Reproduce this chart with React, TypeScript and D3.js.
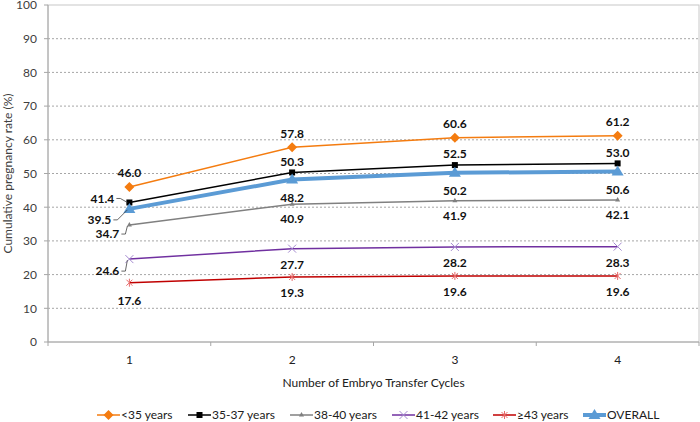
import React from "react";
import * as d3 from "d3";

const categories = ["1", "2", "3", "4"];
const yTicks = [0, 10, 20, 30, 40, 50, 60, 70, 80, 90, 100];
const seriesNames = ["<35 years", "35-37 years", "38-40 years", "41-42 years", "≥43 years", "OVERALL"];
const under35 = [46.0, 57.8, 60.6, 61.2];
const age35to37 = [41.4, 50.3, 52.5, 53.0];
const age38to40 = [34.7, 40.9, 41.9, 42.1];
const age41to42 = [24.6, 27.7, 28.2, 28.3];
const age43plus = [17.6, 19.3, 19.6, 19.6];
const overall = [39.5, 48.2, 50.2, 50.6];

const W = 700, H = 422;
const left = 48, right = 699, top = 5, bottom = 342;
const FONT = "Lato, 'Liberation Sans', Arial, sans-serif";

type Style = { color: string; mcolor: string; width: number; marker: string; labelDy: number; first: { dx: number; dy: number; leader: boolean } };
const styles: Style[] = [
  { color: "#F47C10", mcolor: "#F47C10", width: 1.5, marker: "diamond", labelDy: -14, first: { dx: 0, dy: -14, leader: false } },
  { color: "#000000", mcolor: "#000000", width: 1.5, marker: "square", labelDy: -11, first: { dx: -27, dy: -4, leader: true } },
  { color: "#808080", mcolor: "#808080", width: 1.5, marker: "triangleSmall", labelDy: 15, first: { dx: -22, dy: 9, leader: true } },
  { color: "#7030A0", mcolor: "#A58BD0", width: 1.5, marker: "x", labelDy: 16, first: { dx: -22, dy: 12, leader: true } },
  { color: "#C00000", mcolor: "#E86A6A", width: 1.5, marker: "star", labelDy: 16, first: { dx: 0, dy: 18, leader: false } },
  { color: "#5B9BD5", mcolor: "#5B9BD5", width: 4, marker: "triangle", labelDy: 18, first: { dx: -30, dy: 11, leader: true } },
];
const allSeries = [under35, age35to37, age38to40, age41to42, age43plus, overall];
const legendX = [97, 188, 290, 392, 493, 583];

function Marker({ type, x, y, c }: { type: string; x: number; y: number; c: string }) {
  switch (type) {
    case "diamond":
      return <path d={`M${x},${y - 5}L${x + 5},${y}L${x},${y + 5}L${x - 5},${y}Z`} fill={c} />;
    case "square":
      return <rect x={x - 3} y={y - 3} width={6} height={6} fill={c} />;
    case "triangleSmall":
      return <path d={`M${x},${y - 3}L${x + 2.5},${y + 1.5}L${x - 2.5},${y + 1.5}Z`} fill={c} />;
    case "triangle":
      return <path d={`M${x},${y - 6}L${x + 6},${y + 4}L${x - 6},${y + 4}Z`} fill={c} />;
    case "x":
      return <path d={`M${x - 4},${y - 4}L${x + 4},${y + 4}M${x + 4},${y - 4}L${x - 4},${y + 4}`} stroke={c} strokeWidth={1} />;
    case "star":
      return <path d={`M${x - 3},${y - 3}L${x + 3},${y + 3}M${x + 3},${y - 3}L${x - 3},${y + 3}M${x},${y - 4}L${x},${y + 4}`} stroke={c} strokeWidth={1} />;
  }
  return null;
}

export default function App() {
  const x = d3.scaleBand<string>().domain(categories).range([left, right]);
  const y = d3.scaleLinear().domain([0, 100]).range([bottom, top]);
  const cx = (c: string) => (x(c) as number) + x.bandwidth() / 2;
  const line = d3.line<number>().x((_, i) => cx(categories[i])).y((d) => y(d));
  const boundaries = categories.map((c) => x(c) as number).concat([right]);

  const drawOrder = [4, 3, 2, 0, 1, 5];

  return (
    <svg width={W} height={H} style={{ position: "absolute", left: 0, top: 0 }} fontFamily={FONT}>
      <rect width={W} height={H} fill="#fff" />
      {yTicks.filter((t) => t > 0 && t < 100).map((t) => (
        <line key={t} x1={left} x2={right} y1={y(t)} y2={y(t)} stroke="#A6A6A6" strokeWidth={1} strokeDasharray="2,2" />
      ))}
      <rect x={left} y={top} width={right - left} height={bottom - top} fill="none" stroke="#C8C8C8" strokeWidth={1} />
      <line x1={left} x2={right} y1={bottom} y2={bottom} stroke="#A6A6A6" />
      <line x1={left} x2={left} y1={top} y2={bottom} stroke="#A6A6A6" />
      {yTicks.map((t) => (
        <g key={t}>
          <line x1={left - 4} x2={left} y1={y(t)} y2={y(t)} stroke="#A6A6A6" />
          <text x={left - 11} y={y(t)} dy="0.36em" textAnchor="end" fontSize={12} fill="#404040">{t}</text>
        </g>
      ))}
      {boundaries.map((b, i) => (
        <line key={i} x1={b} x2={b} y1={bottom} y2={bottom + 4} stroke="#A6A6A6" />
      ))}
      {categories.map((c) => (
        <text key={c} x={cx(c)} y={bottom + 18} dy="0.36em" textAnchor="middle" fontSize={12} fill="#202020">{c}</text>
      ))}
      <text x={(left + right) / 2} y={383} dy="0.36em" textAnchor="middle" fontSize={12} fill="#202020">Number of Embryo Transfer Cycles</text>
      <text transform={`translate(8,${(top + bottom) / 2}) rotate(-90)`} textAnchor="middle" dy="0.36em" fontSize={12} fill="#404040">Cumulative pregnancy rate (%)</text>

      {drawOrder.map((si) => {
        const s = styles[si];
        const data = allSeries[si];
        return (
          <g key={si}>
            <path d={line(data) as string} fill="none" stroke={s.color} strokeWidth={s.width} />
            {data.map((v, i) => (
              <Marker key={i} type={s.marker} x={cx(categories[i])} y={y(v)} c={s.mcolor} />
            ))}
          </g>
        );
      })}

      {allSeries.map((data, si) => {
        const s = styles[si];
        return data.map((v, i) => {
          const px = cx(categories[i]);
          const py = y(v);
          const dx = i === 0 ? s.first.dx : 0;
          const dy = i === 0 ? s.first.dy : s.labelDy;
          const tx = px + dx;
          const ty = py + dy;
          return (
            <g key={`${si}-${i}`}>
              {i === 0 && s.first.leader && (
                <path d={`M${tx + 14},${ty}L${tx + 18},${ty}L${px - 2},${py + (dy > 0 ? 1 : 0)}`} fill="none" stroke="#404040" strokeWidth={0.8} />
              )}
              <text x={tx} y={ty} dy="0.36em" textAnchor="middle" fontSize={12} fontWeight="bold" fill="#111">{v.toFixed(1)}</text>
            </g>
          );
        });
      })}

      {seriesNames.map((name, si) => {
        const s = styles[si];
        const ox = legendX[si];
        const ly = 415;
        return (
          <g key={name}>
            <line x1={ox} x2={ox + 23} y1={ly} y2={ly} stroke={s.color} strokeWidth={s.width} />
            <Marker type={s.marker} x={ox + 11.5} y={ly} c={s.mcolor} />
            <text x={ox + 24} y={ly} dy="0.36em" fontSize={12} fill="#202020">{name}</text>
          </g>
        );
      })}
    </svg>
  );
}
